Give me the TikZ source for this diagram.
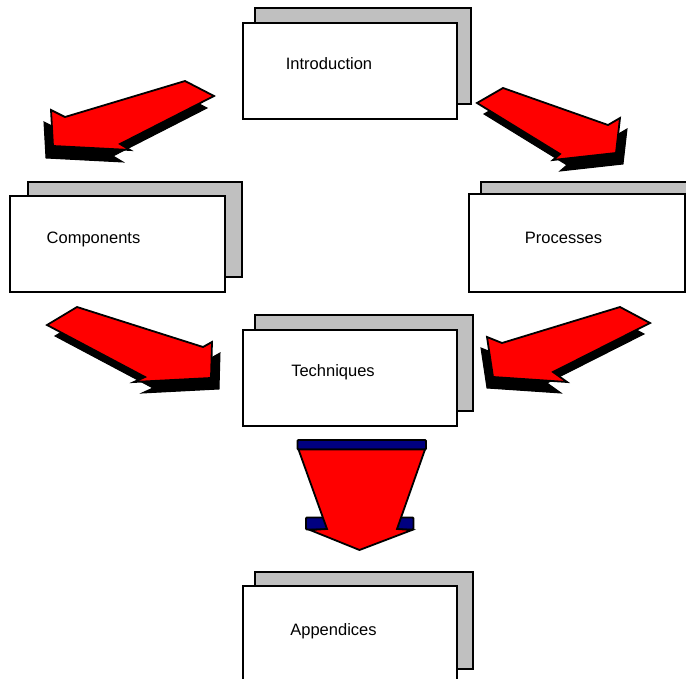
\documentclass[tikz,border=0pt]{standalone}
\usepackage{fontspec}
\setmainfont{Liberation Sans}
\definecolor{sheetgray}{RGB}{192,192,192}
\definecolor{arrowred}{RGB}{255,0,0}
\definecolor{capnavy}{RGB}{0,0,128}
\tikzset{
  backsheet/.style={draw=black, line width=2pt, fill=sheetgray},
  frontsheet/.style={draw=black, line width=2pt, fill=white},
  label/.style={font=\fontsize{16.5}{19}\selectfont, text=black, inner sep=0pt},
  arrowbody/.style={draw=black, line width=1.8pt, fill=arrowred, line join=miter},
  arrowshade/.style={fill=black, draw=black, line width=1pt},
  capblock/.style={draw=black, line width=1.8pt, fill=capnavy, rounded corners=1pt},
}
\begin{document}
\begin{tikzpicture}[x=1pt, y=-1pt]
\useasboundingbox (0,0) rectangle (686,679);
\clip (0,0) rectangle (686,679);

% stacked sheets: grey sheet behind, white sheet in front
% Introduction
\draw[backsheet] (255,8) rectangle (471,104);
\node[frontsheet, minimum width=214pt, minimum height=96pt, anchor=north west] (intro) at (242,22) {};
\node[label] (introtxt) at (329,63.5) {Introduction};

% Components
\draw[backsheet] (28,182) rectangle (242,277);
\node[frontsheet, minimum width=215pt, minimum height=96pt, anchor=north west] (comp) at (9,195) {};
\node[label] (comptxt) at (93.5,239.5) {Components};

% Processes
\draw[backsheet] (481,182) rectangle (700,278);
\node[frontsheet, minimum width=216pt, minimum height=98pt, anchor=north west] (proc) at (467.5,193) {};
\node[label] (proctxt) at (563.5,237.5) {Processes};

% Techniques
\draw[backsheet] (255,315) rectangle (473,411);
\node[frontsheet, minimum width=214pt, minimum height=95pt, anchor=north west] (tech) at (242,329.5) {};
\node[label] (techtxt) at (333,372.5) {Techniques};

% Appendices
\draw[backsheet] (255,572) rectangle (473,669);
\node[frontsheet, minimum width=214pt, minimum height=110pt, anchor=north west] (app) at (242,585) {};
\node[label] (apptxt) at (333.5,631.5) {Appendices};

% block arrow: Introduction -> Components
\begin{scope}[shift={(-7,12)}]
  \fill[arrowshade] (185,81) -- (214,96) -- (120,144) -- (130,150) -- (53,146) -- (51,110) -- (65,117) -- cycle;
\end{scope}
\draw[arrowbody] (185,81) -- (214,96) -- (120,144) -- (130,150) -- (53,146) -- (51,110) -- (65,117) -- cycle;

% block arrow: Introduction -> Processes
\begin{scope}[shift={(7,11)}]
  \fill[arrowshade] (477,103) -- (503,88) -- (608,125) -- (620,118) -- (616,153) -- (553,160) -- (560,154) -- cycle;
\end{scope}
\draw[arrowbody] (477,103) -- (503,88) -- (608,125) -- (620,118) -- (616,153) -- (553,160) -- (560,154) -- cycle;

% block arrow: Components -> Techniques
\begin{scope}[shift={(8,11)}]
  \fill[arrowshade] (47,325) -- (77,307) -- (203,347) -- (212,342) -- (211,378) -- (134,382) -- (145,377) -- cycle;
\end{scope}
\draw[arrowbody] (47,325) -- (77,307) -- (203,347) -- (212,342) -- (211,378) -- (134,382) -- (145,377) -- cycle;

% block arrow: Processes -> Techniques
\begin{scope}[shift={(-6,11)}]
  \fill[arrowshade] (620,307) -- (650,323) -- (553,372) -- (567,382) -- (493,377) -- (487,337) -- (502,343) -- cycle;
\end{scope}
\draw[arrowbody] (620,307) -- (650,323) -- (553,372) -- (567,382) -- (493,377) -- (487,337) -- (502,343) -- cycle;

% downward arrow: Techniques -> Appendices
\draw[capblock] (297.5,440) rectangle (426,449.5);
\draw[capblock] (306,517.5) rectangle (327,529.5);
\draw[capblock] (393,517.5) rectangle (413.5,529.5);
\draw[arrowbody] (298.5,449.5) -- (425,449.5) -- (397,529) -- (412,530) -- (359.5,550) -- (310,530) -- (327,529) -- cycle;
\end{tikzpicture}
\end{document}
